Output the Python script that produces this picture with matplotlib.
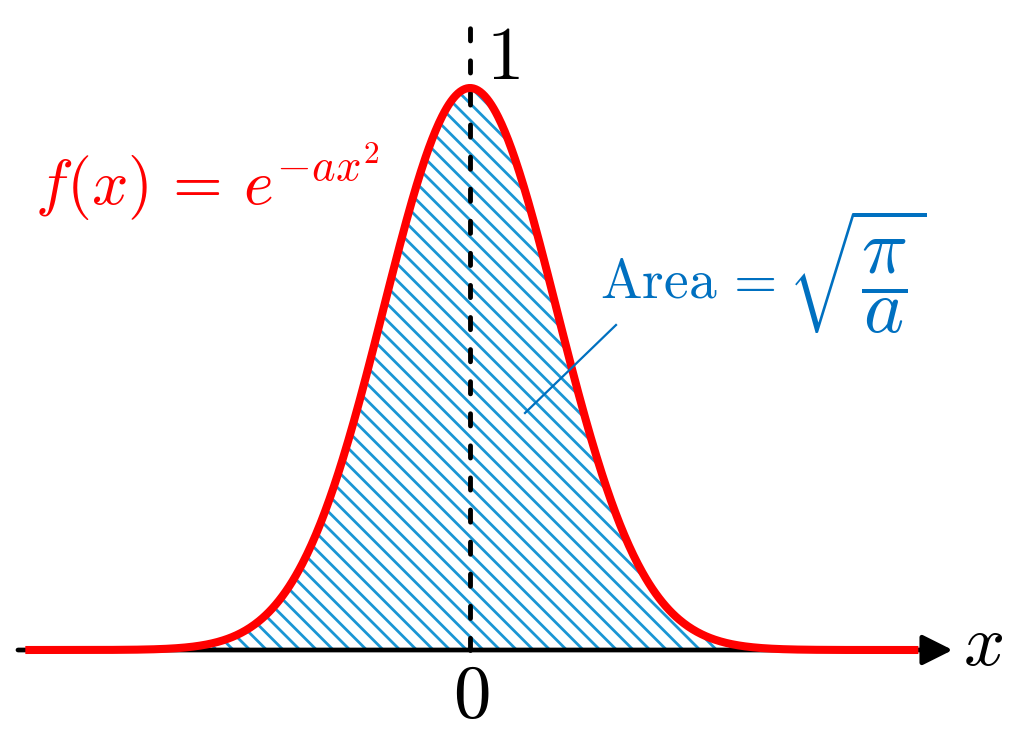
import numpy as np
import matplotlib
matplotlib.use("Agg")
import matplotlib.pyplot as plt

plt.rcParams['mathtext.fontset'] = 'cm'
plt.rcParams['hatch.linewidth'] = 2.0

# ---- data ----
a_param = 1.0
x_start, x_end = -3.63, 3.66
axis_start, axis_end = -3.69, 3.94
tick_zero_label = "$0$"
tick_one_label = "$1$"
axis_label = "$x$"
curve_label = r"$f(x)\,=\,e^{-ax^2}$"
area_word = r"$\mathrm{Area}\,=$"
area_value = r"$\sqrt{\dfrac{\pi}{a}}$"

xs = np.linspace(x_start, x_end, 800)
ys = np.exp(-a_param * xs ** 2)

W, H = 1019, 740
fig = plt.figure(figsize=(W / 100, H / 100), dpi=100)
ax = fig.add_axes([0, 0, 1, 1])
ax.set_axis_off()

px_per_x = 122.5
px_per_y = 562.0
x0_px, y0_px = 470.0, 650.0
ax.set_xlim(-x0_px / px_per_x, (W - x0_px) / px_per_x)
ax.set_ylim(-(H - y0_px) / px_per_y, y0_px / px_per_y)

red = '#ff0000'
blue_text = '#0070c0'
hatch_blue = '#1a96d4'

# hatched area
ax.fill_between(xs, 0, ys, facecolor='none', edgecolor=hatch_blue,
                linewidth=0, hatch='\\\\', zorder=1)

# x-axis with arrow
ax.annotate('', xy=(axis_end, 0), xytext=(axis_start, 0),
            arrowprops=dict(arrowstyle='-|>', color='black', lw=3.4,
                            mutation_scale=46, shrinkA=0, shrinkB=0),
            zorder=2)

# dashed vertical line at x = 0
top_y = (y0_px - 26) / px_per_y
ax.plot([0, 0], [0, top_y], color='black', lw=3.5,
        linestyle=(0, (2.5, 4.1)), dash_capstyle='round', zorder=3)

# curve
ax.plot(xs, ys, color=red, lw=5.8, solid_capstyle='butt', zorder=4)

# annotation leader line
ax.plot([(525 - x0_px) / px_per_x, (616 - x0_px) / px_per_x],
        [(y0_px - 413) / px_per_y, (y0_px - 325) / px_per_y],
        color=blue_text, lw=1.6, zorder=5)

def fx(px):
    return px / W

def fy(py):
    return 1 - py / H

fig.text(fx(35), fy(205), curve_label, color=red, fontsize=46,
         ha='left', va='baseline')
fig.text(fx(600), fy(298), area_word, color=blue_text, fontsize=40,
         ha='left', va='baseline')
fig.text(fx(787), fy(304), area_value, color=blue_text, fontsize=55,
         ha='left', va='baseline')
fig.text(fx(486), fy(79), tick_one_label, color='black', fontsize=54,
         ha='left', va='baseline')
fig.text(fx(471), fy(717), tick_zero_label, color='black', fontsize=54,
         ha='center', va='baseline')
fig.text(fx(963), fy(665), axis_label, color='black', fontsize=52,
         ha='left', va='baseline')

fig.savefig('out.png', dpi=100)
